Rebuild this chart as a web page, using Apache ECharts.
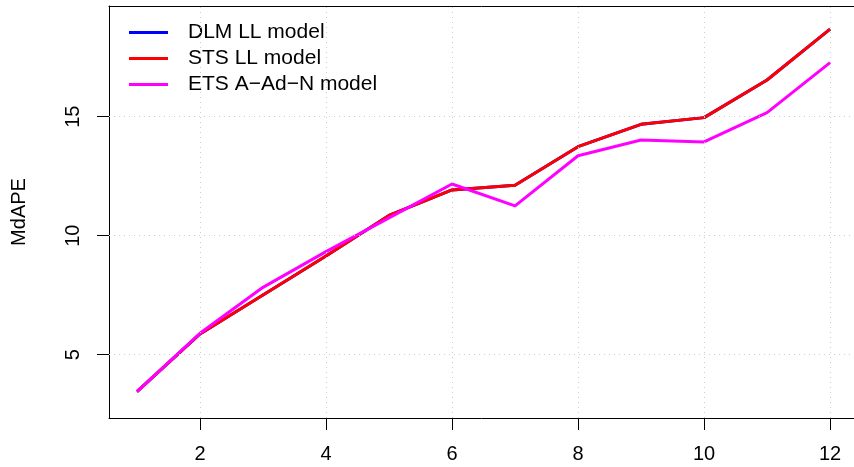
<!DOCTYPE html>
<html>
<head>
<meta charset="utf-8">
<script src="https://cdn.jsdelivr.net/npm/echarts@6/dist/echarts.min.js"></script>
<style>html,body{margin:0;padding:0;background:#fff;}#c{width:854px;height:467px;}</style>
</head>
<body>
<div id="c"></div>
<script>
const xValues = [1, 2, 3, 4, 5, 6, 7, 8, 9, 10, 11, 12];
const dlmLL = [3.45, 5.87, 7.51, 9.15, 10.85, 11.92, 12.12, 13.74, 14.68, 14.96, 16.54, 18.68];
const stsLL = [3.45, 5.87, 7.51, 9.15, 10.85, 11.92, 12.12, 13.74, 14.68, 14.96, 16.54, 18.68];
const etsAAdN = [3.45, 5.90, 7.83, 9.33, 10.75, 12.17, 11.25, 13.36, 14.02, 13.94, 15.17, 17.27];
const xTicks = [2, 4, 6, 8, 10, 12];
const yTicks = [5, 10, 15];
const seriesNames = ['DLM LL model', 'STS LL model', 'ETS A\u2212Ad\u2212N model'];

const FONT = '"Liberation Sans", Arial, Helvetica, sans-serif';
const pairs = arr => xValues.map((x, i) => [x, arr[i]]);
const gridStyle = { color: '#cfcfcf', width: 1, type: [1, 4] };

const chart = echarts.init(document.getElementById('c'), null, { renderer: 'canvas' });
chart.setOption({
  animation: false,
  backgroundColor: '#fff',
  textStyle: { fontFamily: FONT },
  grid: { left: 109, right: 0, top: 6, bottom: 49, containLabel: false },
  legend: {
    orient: 'vertical', left: 129, top: 22, padding: 0,
    icon: 'rect', itemWidth: 39, itemHeight: 3, itemGap: 5,
    data: seriesNames,
    textStyle: { fontSize: 21, color: '#000', fontFamily: FONT, lineHeight: 21, padding: [0, 0, 0, 15] }
  },
  xAxis: [{
    type: 'value', min: 0.556, max: 12.38,
    axisLine: { show: true, lineStyle: { color: '#000', width: 1 } },
    axisTick: { show: true, length: 12, customValues: xTicks, lineStyle: { color: '#000' } },
    axisLabel: { customValues: xTicks, fontSize: 20, color: '#000', margin: 26, fontFamily: FONT },
    splitLine: { show: false }
  }, {
    type: 'value', position: 'top', min: 0.556, max: 12.38,
    axisLine: { show: true, lineStyle: { color: '#000', width: 1 } },
    axisTick: { show: false }, axisLabel: { show: false }, splitLine: { show: false }
  }],
  yAxis: {
    type: 'value', min: 2.34, max: 19.65,
    name: 'MdAPE', nameLocation: 'middle', nameGap: 80, nameRotate: 90,
    nameTextStyle: { fontSize: 20, color: '#000', fontFamily: FONT },
    axisLine: { show: true, lineStyle: { color: '#000', width: 1 } },
    axisTick: { show: true, length: 12, customValues: yTicks, lineStyle: { color: '#000' } },
    axisLabel: { customValues: yTicks, rotate: 90, fontSize: 20, color: '#000', margin: 26, fontFamily: FONT },
    splitLine: { show: false }
  },
  series: [
    {
      type: 'line', name: '_grid', data: [], silent: true, z: 1,
      markLine: {
        silent: true, symbol: 'none', label: { show: false }, animation: false,
        lineStyle: gridStyle,
        data: xTicks.map(v => ({ xAxis: v })).concat(yTicks.map(v => ({ yAxis: v })))
      }
    },
    { type: 'line', name: seriesNames[0], data: pairs(dlmLL), showSymbol: false, symbol: 'none',
      lineStyle: { color: '#0000ff', width: 3, join: 'round' }, itemStyle: { color: '#0000ff' }, z: 2 },
    { type: 'line', name: seriesNames[1], data: pairs(stsLL), showSymbol: false, symbol: 'none',
      lineStyle: { color: '#ff0000', width: 3, join: 'round' }, itemStyle: { color: '#ff0000' }, z: 3 },
    { type: 'line', name: seriesNames[2], data: pairs(etsAAdN), showSymbol: false, symbol: 'none',
      lineStyle: { color: '#ff00ff', width: 3, join: 'round' }, itemStyle: { color: '#ff00ff' }, z: 4 }
  ]
});
</script>
</body>
</html>
